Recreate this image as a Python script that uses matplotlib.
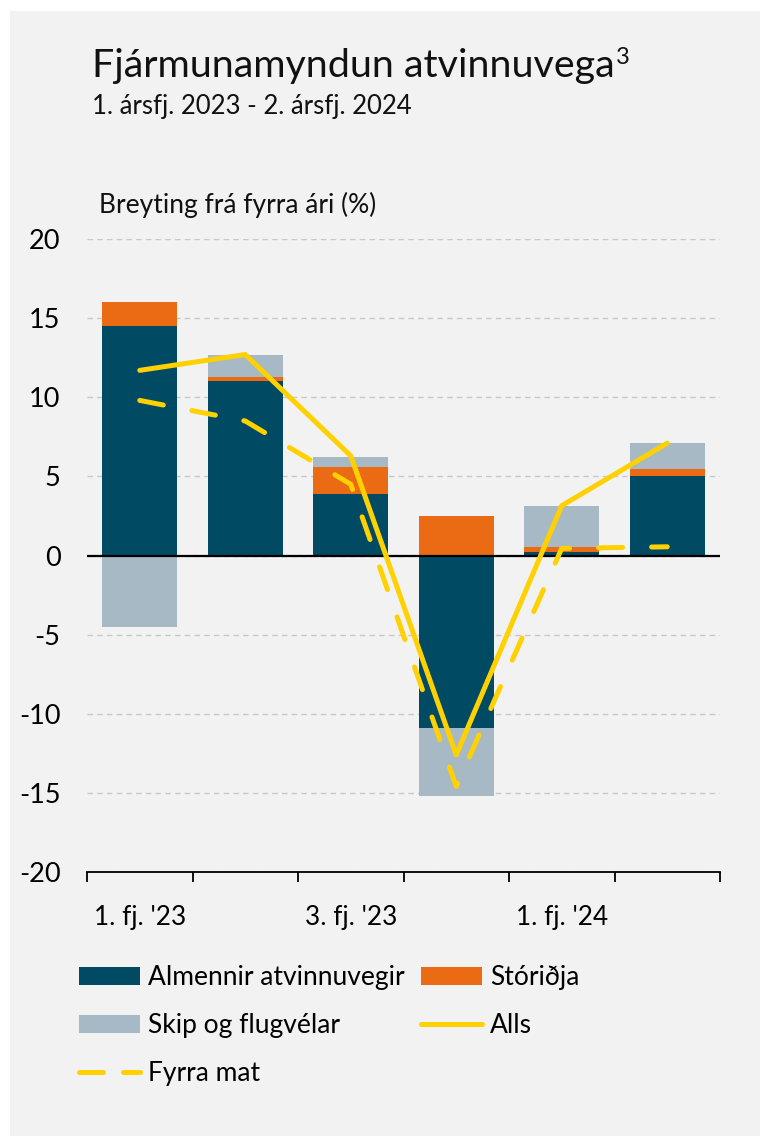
import matplotlib
matplotlib.use("Agg")
import matplotlib.pyplot as plt
from matplotlib.patches import Rectangle, Patch
from matplotlib.lines import Line2D
import numpy as np

plt.rcParams['font.family'] = ['Lato', 'DejaVu Sans']
plt.rcParams['axes.unicode_minus'] = False

# ---- data ----
categories = ["1. fj. '23", "2. fj. '23", "3. fj. '23", "4. fj. '23", "1. fj. '24", "2. fj. '24"]
tick_labels = ["1. fj. '23", "", "3. fj. '23", "", "1. fj. '24", ""]
almennir = [14.5, 11.0, 3.9, -10.9, 0.25, 5.05]
storidja = [1.5, 0.25, 1.7, 2.5, 0.3, 0.4]
skip = [-4.5, 1.45, 0.65, -4.3, 2.55, 1.65]
alls = [11.7, 12.7, 6.3, -12.6, 3.15, 7.1]
fyrra_mat = [9.8, 8.5, 4.5, -14.6, 0.45, 0.55]

C_DARK = '#004a63'
C_ORANGE = '#ea6b14'
C_GRAY = '#a7b9c4'
C_YELLOW = '#ffd100'
BG = '#f2f2f2'

W, H = 763, 1138
fig = plt.figure(figsize=(W / 100, H / 100), dpi=100, facecolor='white')
fig.patches.append(Rectangle((10 / W, 2 / H), (750) / W, (H - 13) / H,
                             transform=fig.transFigure, facecolor=BG,
                             edgecolor='none', zorder=-10))

ax = fig.add_axes([87 / W, 1 - 872 / H, (720 - 87) / W, (872 - 239) / H])
ax.set_facecolor(BG)
ax.patch.set_alpha(0)

x = np.arange(len(categories))
alm = np.array(almennir)
sto = np.array(storidja)
skp = np.array(skip)

# stacking: positives stacked upward, negatives downward
pos_base = np.zeros(len(x))
neg_base = np.zeros(len(x))
bw = 0.71
for vals, col in [(alm, C_DARK), (sto, C_ORANGE), (skp, C_GRAY)]:
    bottoms = np.where(vals >= 0, pos_base, neg_base)
    ax.bar(x, vals, bottom=bottoms, width=bw, color=col, zorder=2,
           edgecolor='none')
    pos_base = pos_base + np.where(vals >= 0, vals, 0)
    neg_base = neg_base + np.where(vals < 0, vals, 0)

ax.plot(x, alls, color=C_YELLOW, lw=3.6, zorder=4, solid_capstyle='round',
        solid_joinstyle='round')
ax.plot(x, fyrra_mat, color=C_YELLOW, lw=3.6, zorder=4,
        dashes=(4.8, 5.8), dash_capstyle='round')

ax.axhline(0, color='black', lw=1.6, zorder=3)

ax.set_xlim(-0.5, len(x) - 0.5)
ax.set_ylim(-20, 20)
ax.set_yticks(np.arange(-20, 21, 5))
ax.yaxis.grid(True, color='#c8c8c8', linestyle=(0, (4, 3)), lw=1.0, zorder=0)
ax.set_axisbelow(True)
ax.tick_params(axis='y', length=0, pad=19, labelsize=19.5)

ax.set_xticks(x)
ax.set_xticklabels(tick_labels, fontsize=18.8)
ax.set_xticks(np.arange(-0.5, len(x), 1.0), minor=True)
ax.tick_params(axis='x', which='major', length=0, pad=24)
ax.tick_params(axis='x', which='minor', length=7, width=1.3, direction='out')

for s in ['top', 'right', 'left']:
    ax.spines[s].set_visible(False)
ax.spines['bottom'].set_linewidth(1.3)

# titles
t = fig.text(92 / W, 1 - 77 / H, "Fjármunamyndun atvinnuvega", fontsize=28.4,
             ha='left', va='baseline', color='#111111')
renderer = fig.canvas.get_renderer()
bb = t.get_window_extent(renderer=renderer)
fig.text((bb.x1 + 1) / W, 1 - 64 / H, "3", fontsize=17,
         ha='left', va='baseline', color='#111111')
fig.text(92 / W, 1 - 114 / H, "1. ársfj. 2023 - 2. ársfj. 2024", fontsize=18.5,
         ha='left', va='baseline', color='#111111')
fig.text(99 / W, 1 - 213 / H, "Breyting frá fyrra ári (%)", fontsize=19,
         ha='left', va='baseline', color='#111111')

handles = [
    Patch(facecolor=C_DARK, label='Almennir atvinnuvegir'),
    Patch(facecolor=C_GRAY, label='Skip og flugvélar'),
    Line2D([], [], color=C_YELLOW, lw=3.6, dashes=(4.8, 4.0),
           dash_capstyle='round', label='Fyrra mat'),
    Patch(facecolor=C_ORANGE, label='Stóriðja'),
    Line2D([], [], color=C_YELLOW, lw=3.6, solid_capstyle='round', label='Alls'),
]
fig.legend(handles=handles, ncol=2, loc='upper left',
           bbox_to_anchor=(79 / W, 1 - 965 / H), frameon=False,
           fontsize=19, handlelength=2.3, handleheight=0.65,
           handletextpad=0.3, columnspacing=0.65, labelspacing=0.88,
           borderaxespad=0, borderpad=0)

fig.savefig('out.png', dpi=100, facecolor='white')
